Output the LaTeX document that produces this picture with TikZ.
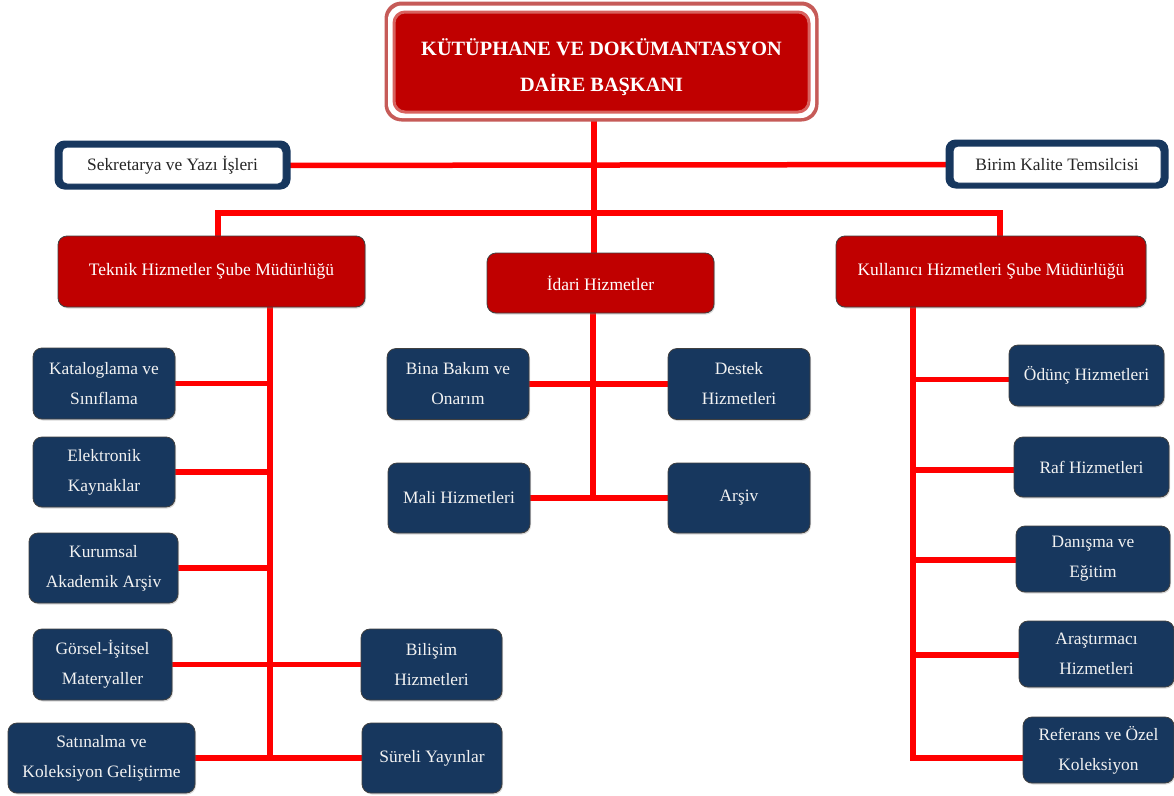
\documentclass[tikz,border=0pt]{standalone}
\usepackage{fontspec}
\setmainfont{Liberation Serif}
\usetikzlibrary{backgrounds,shadows,calc}
\definecolor{darkred}{HTML}{C00000}
\definecolor{navy}{HTML}{17375E}
\definecolor{linered}{HTML}{FF0000}
\definecolor{titleband}{HTML}{C65B58}
\definecolor{titlerim}{HTML}{D8625F}
\begin{document}
\begin{tikzpicture}[x=1pt,y=-1pt,
 shad/.style={drop shadow={shadow xshift=1pt,shadow yshift=-1.5pt,opacity=0.3}},
 redbox/.style={shad, draw=black!75, line width=0.8pt, fill=darkred, rounded corners=9pt, text=white, inner sep=0pt, font=\fontsize{17.5}{21}\selectfont, align=center},
 navybox/.style={shad, draw=black!75, line width=0.8pt, fill=navy, rounded corners=9pt, text=white!95!black, inner sep=0pt, font=\fontsize{17.4}{30}\selectfont, align=center},
 sidebox/.style={draw=navy, line width=1pt, fill=white, rounded corners=5pt, inner sep=0pt, font=\fontsize{17.4}{20}\selectfont, text=black!85},
 titlebox/.style={draw=titlerim, line width=3pt, fill=darkred, rounded corners=11pt, text=white, inner sep=0pt, font=\fontsize{20.3}{36}\selectfont\bfseries, align=center},
 conn/.style={draw=linered, line width=5.5pt, line cap=rect},
 sz/.style 2 args={minimum width=#1pt, minimum height=#2pt}
]
\useasboundingbox (0,0) rectangle (1174,795);

% title
\node[titlebox, sz={415}{100}] (title) at (601.5,62) {};
\node[text=white, font=\fontsize{20.3}{36}\selectfont\bfseries, align=center, inner sep=0pt] (titletext) at (601.5,67) {KÜTÜPHANE VE DOKÜMANTASYON\\DAİRE BAŞKANI};

% side boxes
\node[sidebox, sz={221}{37}] (sek) at (172.5,165.5) {Sekretarya ve Yazı İşleri};
\node[sidebox, sz={208}{37}] (birim) at (1057,164.5) {Birim Kalite Temsilcisi};

% red level boxes
\node[redbox, sz={307}{71}] (teknik) at (211.5,271.5) {Teknik Hizmetler Şube Müdürlüğü};
\node[redbox, sz={227}{60}] (idari) at (600.5,283) {İdari Hizmetler};
\node[redbox, sz={310}{71}] (kull) at (991,271.5) {Kullanıcı Hizmetleri Şube Müdürlüğü};

% teknik children
\node[navybox, sz={142}{71}] (kat) at (104,383.5) {Kataloglama ve\\Sınıflama};
\node[navybox, sz={142}{70}] (elek) at (104,472) {Elektronik\\Kaynaklar};
\node[navybox, sz={149}{70}] (kur) at (103.5,568) {Kurumsal\\Akademik Arşiv};
\node[navybox, sz={139}{71}] (gor) at (102.5,664.5) {Görsel-İşitsel\\Materyaller};
\node[navybox, sz={141}{71}] (bil) at (431.5,664.5) {Bilişim\\Hizmetleri};
\node[navybox, sz={187}{70}] (sat) at (101.5,758) {Satınalma ve\\Koleksiyon Geliştirme};
\node[navybox, sz={140}{70}] (sur) at (432,758) {Süreli Yayınlar};

% idari children
\node[navybox, sz={142}{71}] (bina) at (458,384) {Bina Bakım ve\\Onarım};
\node[navybox, sz={142}{71}] (destek) at (739,384) {Destek\\Hizmetleri};
\node[navybox, sz={142}{70}] (mali) at (459,498) {Mali Hizmetleri};
\node[navybox, sz={142}{70}] (arsiv) at (739,498) {Arşiv};

% kullanici children
\node[navybox, sz={155}{61}] (odunc) at (1086.5,375.5) {Ödünç Hizmetleri};
\node[navybox, sz={155}{60}] (raf) at (1091.5,467) {Raf Hizmetleri};
\node[navybox, sz={154}{66}] (dan) at (1093,559) {Danışma ve\\Eğitim};
\node[navybox, sz={155}{66}] (aras) at (1096.5,654) {Araştırmacı\\Hizmetleri};
\node[navybox, sz={151}{66}] (ref) at (1098.5,750) {Referans ve Özel\\Koleksiyon};

\coordinate (tv) at (594,0);
\coordinate (bl) at (218,213);
\coordinate (br) at (1000,213);
\coordinate (tk) at (270,0);
\coordinate (iv) at (593,0);
\coordinate (kv) at (913,0);

\begin{scope}[on background layer]
 \fill[white] (0,0) rectangle (1174,795);
 % connectors
 \draw[conn] (title.south -| tv) -- (idari.north -| tv);
 \draw[conn] (sek.east) -- (birim.west);
 \draw[conn] (teknik.north -| bl) -- (bl) -- (br) -- (kull.north -| br);
 % teknik trunk
 \draw[conn] (teknik.south -| tk) -- (sat.east -| tk);
 \draw[conn] (kat.east) -- (kat.east -| tk);
 \draw[conn] (elek.east) -- (elek.east -| tk);
 \draw[conn] (kur.east) -- (kur.east -| tk);
 \draw[conn] (gor.east) -- (bil.west);
 \draw[conn] (sat.east) -- (sur.west);
 % idari trunk
 \draw[conn] (idari.south -| iv) -- (mali.east -| iv);
 \draw[conn] (bina.east) -- (destek.west);
 \draw[conn] (mali.east) -- (arsiv.west);
 % kullanici trunk
 \draw[conn] (kull.south -| kv) -- ([yshift=-8pt]ref.west -| kv);
 \draw[conn] ([yshift=-4pt]odunc.west) -- ([yshift=-4pt]odunc.west -| kv);
 \draw[conn] ([yshift=-3pt]raf.west) -- ([yshift=-3pt]raf.west -| kv);
 \draw[conn] ([yshift=-1pt]dan.west) -- ([yshift=-1pt]dan.west -| kv);
 \draw[conn] ([yshift=-1pt]aras.west) -- ([yshift=-1pt]aras.west -| kv);
 \draw[conn] ([yshift=-8pt]ref.west) -- ([yshift=-8pt]ref.west -| kv);
 % frames
 \fill[titleband, rounded corners=17pt] ([xshift=-8pt,yshift=-8pt]title.south west) rectangle ([xshift=8pt,yshift=9pt]title.north east);
 \fill[white, rounded corners=14pt] ([xshift=-4.5pt,yshift=-4.5pt]title.south west) rectangle ([xshift=4.5pt,yshift=5pt]title.north east);
 \fill[navy, rounded corners=10pt] ([xshift=-7pt,yshift=-5pt]sek.south west) rectangle ([xshift=7pt,yshift=6pt]sek.north east);
 \fill[navy, rounded corners=10pt] ([xshift=-7pt,yshift=-5pt]birim.south west) rectangle ([xshift=7pt,yshift=6pt]birim.north east);
\end{scope}
\end{tikzpicture}
\end{document}
